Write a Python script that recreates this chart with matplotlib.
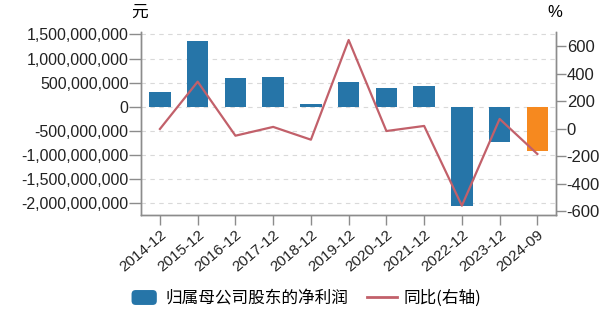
import matplotlib
matplotlib.use("Agg")
import matplotlib.pyplot as plt
from matplotlib.ticker import FuncFormatter
from matplotlib.patches import Patch, FancyBboxPatch
from matplotlib.lines import Line2D
from matplotlib.legend_handler import HandlerPatch

plt.rcParams['font.family'] = ['Liberation Sans', 'Noto Sans CJK SC', 'DejaVu Sans']

categories = ["2014-12", "2015-12", "2016-12", "2017-12", "2018-12", "2019-12",
              "2020-12", "2021-12", "2022-12", "2023-12", "2024-09"]
net_profit = [309e6, 1364e6, 597e6, 617e6, 50e6, 514e6, 385e6, 426e6, -2051e6, -735e6, -920e6]
yoy = [0, 344, -49, 15, -78, 647, -15, 22, -558, 73, -182]
left_ticks = [1.5e9, 1.0e9, 0.5e9, 0, -0.5e9, -1.0e9, -1.5e9, -2.0e9]
right_ticks = [600, 400, 200, 0, -200, -400, -600]

blue = "#2675a8"
orange = "#f6891f"
red = "#c2606a"
spine_c = "#8c8c8c"

fig = plt.figure(figsize=(6.16, 3.11), dpi=100)
ax = fig.add_axes([0.229, 0.309, 0.674, 0.588])
ax2 = ax.twinx()

x = list(range(len(categories)))
colors = [blue] * (len(categories) - 1) + [orange]
ax.bar(x, net_profit, width=0.57, color=colors, zorder=2)
ax2.plot(x, yoy, color=red, lw=1.6, zorder=3)

ax.set_xlim(-0.5, len(categories) - 0.5)
ax.set_ylim(-2.24e9, 1.55e9)
ax2.set_ylim(-625, 705)
ax.set_yticks(left_ticks)
ax2.set_yticks(right_ticks)
ax.yaxis.set_major_formatter(FuncFormatter(lambda v, p: f"{int(round(v)):,}"))
ax2.yaxis.set_major_formatter(FuncFormatter(lambda v, p: f"{int(round(v))}"))
ax.set_xticks(x)
ax.set_xticklabels(categories, rotation=40, ha='right', rotation_mode='anchor')

ax.grid(axis='y', linestyle=(0, (4, 4)), color='#d9d9d9', lw=0.8, zorder=0)
ax.set_axisbelow(True)

for a in (ax, ax2):
    for s in a.spines.values():
        s.set_color(spine_c)
        s.set_linewidth(1.0)
    a.spines['top'].set_visible(False)
    a.tick_params(colors='#222222', width=1.0)
    a.tick_params(axis='both', color=spine_c)
ax.tick_params(axis='y', labelsize=11.5, length=8.5, pad=0.5)
ax2.tick_params(axis='y', labelsize=12, length=7, pad=0.5)
ax.tick_params(axis='x', labelsize=11, length=7.5, pad=1.5)

fig.text(0.227, 0.96, "元", fontsize=12, ha='center', va='center', family=['Noto Sans CJK SC'])
fig.text(0.901, 0.96, "%", fontsize=12, ha='center', va='center')


class RoundPatchHandler(HandlerPatch):
    def create_artists(self, legend, orig_handle, xdescent, ydescent, width, height, fontsize, trans):
        p = FancyBboxPatch((-xdescent + 2, -ydescent), width - 4, height,
                           boxstyle="round,pad=0,rounding_size=3",
                           facecolor=orig_handle.get_facecolor(),
                           edgecolor='none', transform=trans)
        return [p]


handles = [Patch(facecolor=blue, edgecolor=blue, label="归属母公司股东的净利润"),
           Line2D([0], [0], color=red, lw=2, label="同比(右轴)")]
leg = fig.legend(handles=handles, loc='center', bbox_to_anchor=(0.495, 0.04), ncol=2,
                 frameon=False, handlelength=1.85, handleheight=1.0,
                 columnspacing=1.1, handletextpad=0.35,
                 handler_map={Patch: RoundPatchHandler()},
                 prop={'family': ['Noto Sans CJK SC', 'DejaVu Sans'], 'size': 12})

fig.savefig("out.png", dpi=100)
